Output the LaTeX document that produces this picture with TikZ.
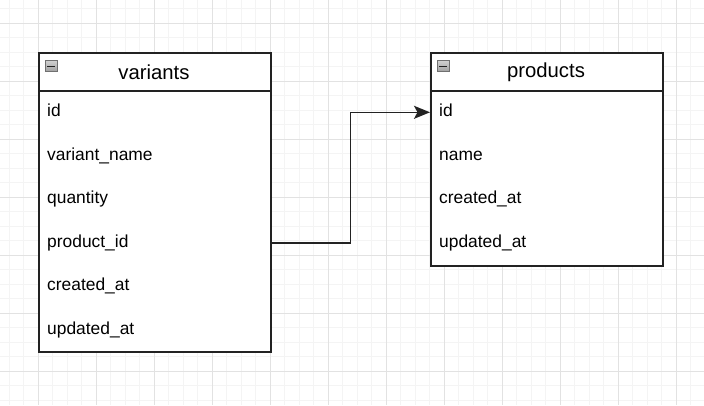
\documentclass[tikz,border=0pt]{standalone}
\usepackage{fontspec}
\setmainfont{Liberation Sans}
\usetikzlibrary{arrows.meta}
\definecolor{gridminor}{HTML}{F4F4F4}
\definecolor{gridmajor}{HTML}{E2E2E2}
\definecolor{edge}{HTML}{222222}
\definecolor{iconfill}{HTML}{A0A0A0}
\definecolor{iconedge}{HTML}{707070}
\tikzset{
  tablebox/.style={draw=edge, line width=1.5pt, fill=white, minimum width=232pt, inner sep=0pt, anchor=north west},
  headbox/.style={draw=edge, line width=1.5pt, minimum width=232pt, minimum height=38pt, inner sep=0pt, anchor=north west},
  rowbox/.style={minimum width=232pt, minimum height=43.6pt, inner sep=0pt, anchor=north west},
  titletext/.style={font=\fontsize{20.3pt}{24pt}\selectfont, inner sep=0pt},
  fieldtext/.style={font=\fontsize{17.4pt}{21pt}\selectfont, inner sep=0pt, anchor=base west},
  iconbox/.style={draw=iconedge, line width=0.8pt, top color=iconfill!50, bottom color=iconfill, minimum width=12pt, minimum height=11pt, inner sep=0pt},
  link/.style={draw=edge, line width=1.5pt, -{Stealth[length=16pt,width=13pt,inset=3.5pt]}}
}
\begin{document}
\begin{tikzpicture}[x=1pt,y=-1pt]
\useasboundingbox (0,0) rectangle (704,405);
\fill[white] (0,0) rectangle (704,405);
% grid
\foreach \i in {0,...,48} {
  \draw[gridminor, line width=1pt] ({9+14.5*\i},0) -- ({9+14.5*\i},405);
}
\foreach \j in {0,...,27} {
  \draw[gridminor, line width=1pt] (0,{8.8+14.5*\j}) -- (704,{8.8+14.5*\j});
}
\foreach \i in {0,...,11} {
  \draw[gridmajor, line width=1pt] ({38+58*\i},0) -- ({38+58*\i},405);
}
\foreach \j in {0,...,6} {
  \draw[gridmajor, line width=1pt] (0,{23.3+58*\j}) -- (704,{23.3+58*\j});
}
% variants table
\node[tablebox, minimum height=299pt] (vtab) at (38,52.3) {};
\node[headbox] (vhead) at (38,52.3) {};
\node[titletext] (vtitle) at (154,72) {variants};
\node[iconbox] (vicon) at (51.3,66.2) {};
\draw[edge, line width=1.4pt] (47.3,66.2) -- (55.3,66.2);
\foreach \n/\t [count=\k from 0] in {v1/id, v2/variant\_name, v3/quantity, v4/product\_id, v5/created\_at, v6/updated\_at} {
  \node[rowbox] (\n) at (38,{90.3+43.6*\k}) {};
  \node[fieldtext] at (47,{90.3+43.6*\k+21.8+4.3}) {\t};
}
% products table
\node[tablebox, minimum height=212.7pt] (ptab) at (430,52.3) {};
\node[headbox] (phead) at (430,52.3) {};
\node[titletext] (ptitle) at (546,72) {products};
\node[iconbox] (picon) at (443.3,66.2) {};
\draw[edge, line width=1.4pt] (439.3,66.2) -- (447.3,66.2);
\foreach \n/\t [count=\k from 0] in {p1/id, p2/name, p3/created\_at, p4/updated\_at} {
  \node[rowbox] (\n) at (430,{90.3+43.6*\k}) {};
  \node[fieldtext] at (439,{90.3+43.6*\k+21.8+4.3}) {\t};
}
% connector
\draw[link] (v4.east) -- ++(80,0) |- (p1.west);
\end{tikzpicture}
\end{document}
